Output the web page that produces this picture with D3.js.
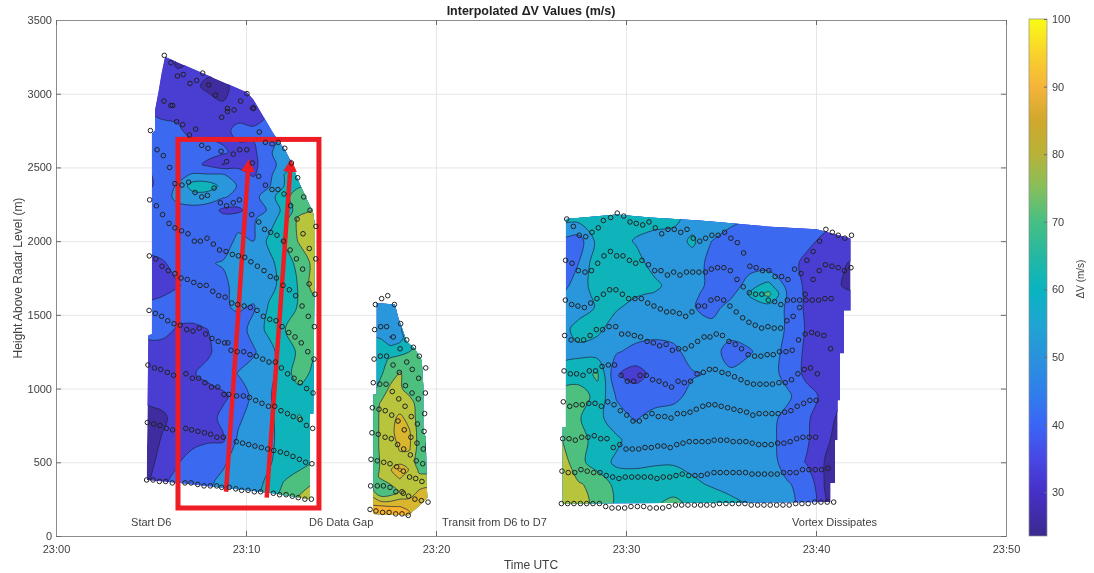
<!DOCTYPE html>
<html>
<head>
<meta charset="utf-8">
<script src="https://cdn.jsdelivr.net/npm/d3@7"></script>
<style>
  html, body { margin: 0; background: #fff; }
  svg { filter: blur(0.4px); }
  text { font-family: "Liberation Sans", Arial, sans-serif; fill: #404040; }
  .axis path { stroke: #8c8c8c; }
  .axis line { stroke: #6a6a6a; }
  .axis text { font-size: 11px; fill: #404040; }
  .grid line { stroke: #e6e6e6; }
  .grid path { display: none; }
</style>
</head>
<body>
<svg id="chart" width="1094" height="573"></svg>
<script>
// time is minutes after 23:00, height is metres
const xTicks = [0, 10, 20, 30, 40, 50];
const xTickLabels = ["23:00", "23:10", "23:20", "23:30", "23:40", "23:50"];
const yTicks = [0, 500, 1000, 1500, 2000, 2500, 3000, 3500];
const barTicks = [30, 40, 50, 60, 70, 80, 90, 100];

const levels = [28, 35, 45, 55, 65, 75, 83, 90];
const bandColors = ["#3f2c9e", "#4a3dd2", "#3b69f0", "#2a97dd", "#0fb4ba", "#4dc07f", "#b8c53c", "#d8b62e", "#f6b22c"];

const barValues = [23.5, 30, 35, 40, 45, 50, 55, 60, 65, 70, 75, 80, 85, 90, 95, 100];
const barColors = ["#3a2a8e", "#4630c8", "#4848e4", "#3a66f5", "#2f80ea", "#2a92dc", "#1ea6d2", "#08b4c0", "#25b8a2", "#46bf84", "#86bf5c", "#b8b238", "#cfa82c", "#f5b43a", "#f8d42a", "#f9fb15"];

const labels = ["Start D6", "D6 Data Gap", "Transit from D6 to D7", "Vortex Dissipates"];
const labelMinutes = [3.95, 13.32, 20.32, 38.74];
const labelHeight = 68;

const boxCorners = [[6.42, 2690], [13.84, 190]];
const arrows = [
  [[8.95, 300], [10.1, 2470]],
  [[11.09, 260], [12.32, 2470]]
];

// swath D6
const d6Minutes = [4.8, 5.6, 6.4, 7.2, 8.0, 8.8, 9.6, 10.4, 11.2, 12.0, 12.8, 13.6];
const d6Heights = [200, 350, 500, 650, 800, 950, 1100, 1250, 1400, 1550, 1700, 1850, 2000, 2150, 2210, 2300, 2375, 2450, 2520, 2600, 2750, 2900, 3050, 3200, 3350];
const d6Grid = [
  [27, 32, 36, 40, 44, 47, 50, 52, 60, 70, 80, 84],
  [27, 34, 37, 40, 44, 47, 50, 52, 57, 66, 70, 76],
  [26, 30, 34.5, 38, 41, 44, 48, 50, 54, 59, 62, 64],
  [25, 28.5, 31, 33, 34, 34, 47, 50, 52, 60, 60, 60],
  [25, 27, 30, 31, 32, 37, 43, 50, 53, 59, 66, 60],
  [30, 30, 31, 31.5, 32, 33.5, 38, 48, 54, 60, 60, 60],
  [31, 31, 32, 34.5, 37, 40, 45.5, 48, 52, 60, 70, 62],
  [31, 31, 31.5, 32, 34, 38, 41, 44, 50, 62, 66, 66],
  [38, 38, 34, 33, 35, 39, 41, 48, 58, 64.5, 70, 70],
  [36, 38, 39, 40, 41, 44, 46, 44, 56, 60, 66, 68],
  [32, 32, 34.5, 37, 39, 42, 50, 50, 52, 58, 66, 80],
  [31, 34, 38, 40, 44, 46, 46, 46, 52, 60, 68, 78],
  [39, 40, 41, 44, 40, 39, 48, 45, 57, 66, 76, 77],
  [40, 40, 40, 40, 39, 38, 40, 44, 50, 60, 78, 80],
  [40, 40, 41, 42, 40, 33, 33, 40, 46, 58, 70, 76],
  [38, 40, 48, 50, 50, 46, 42, 42, 50, 62, 70, 72],
  [32, 40, 46, 60, 60, 52, 44, 40, 44, 55, 64, 64],
  [33, 40, 42, 46, 46, 46, 38, 34, 42, 55, 62, 62],
  [40, 40, 40, 38, 33, 27.5, 33, 33, 40, 50, 60, 60],
  [40, 40, 40, 38, 38, 36, 33, 33, 43, 52, 62, 62],
  [40, 37, 36, 33, 33, 33, 37, 37, 40, 44, 48, 48],
  [33, 33, 33, 33, 33, 29, 31, 27, 33, 38, 40, 40],
  [33, 32, 32, 30, 26, 26, 31, 33, 36, 38, 40, 40],
  [32, 32, 27, 29, 31, 32, 33, 33, 36, 38, 40, 40],
  [32, 32, 32, 32, 32, 33, 33, 33, 36, 38, 40, 40]
];
const d6Outline = [[5.74, 3250], [10.04, 3010], [10.39, 2960], [11.44, 2730], [12.05, 2620], [12.40, 2530], [12.75, 2410], [13.54, 2190], [13.63, 2100], [13.54, 830], [13.37, 830], [13.37, 250], [11.44, 290], [6.53, 360], [4.77, 380], [4.86, 1360], [5.05, 1370], [5.05, 2730], [5.21, 2750], [5.21, 2890], [5.39, 3010], [5.56, 3140]];
const d6Points = [
  [5.70, 3260], [6.05, 3210], [6.39, 3120], [6.70, 3130], [7.05, 3070], [7.40, 3090], [7.72, 3140], [8.04, 3060], [8.39, 2990], [10.05, 3000], [9.72, 2950], [9.02, 2900], [9.02, 2880], [9.37, 2890], [8.72, 2840], [10.39, 2900],
  [5.68, 2950], [6.04, 2920], [6.14, 2920], [6.35, 2810], [6.67, 2790], [7.35, 2760], [7.02, 2720], [10.70, 2740], [4.97, 2750],
  [5.32, 2620], [5.65, 2580], [5.98, 2500], [6.26, 2390], [6.63, 2380], [6.98, 2400], [7.32, 2330], [7.67, 2300], [7.97, 2310], [8.32, 2360],
  [7.67, 2650], [8.00, 2630], [8.69, 2610], [9.33, 2590], [9.67, 2620], [10.04, 2620], [8.98, 2540], [10.33, 2530], [10.67, 2440], [11.02, 2380], [11.37, 2350], [11.68, 2350], [12.00, 2320], [12.35, 2240], [12.69, 2150], [13.00, 2050],
  [11.02, 2670], [11.37, 2660], [11.70, 2670], [12.04, 2630], [12.39, 2530], [12.72, 2430], [13.04, 2300], [13.37, 2210], [13.68, 2100],
  [4.93, 2280], [5.28, 2240], [5.61, 2180], [5.95, 2120], [6.26, 2090], [6.61, 2070], [6.95, 2050], [7.28, 2000], [7.60, 2000], [7.95, 2020], [8.28, 1980], [8.61, 1940], [8.95, 1930], [9.28, 1910], [9.60, 1900], [9.93, 1890], [10.26, 1860], [10.60, 1830], [10.95, 1800], [11.28, 1760], [11.60, 1750], [11.95, 1700], [12.28, 1670], [12.61, 1630], [12.95, 1560], [13.28, 1490], [13.60, 1420],
  [8.65, 2260], [8.98, 2240], [9.33, 2260], [9.65, 2280], [10.30, 2180], [10.67, 2130], [10.98, 2080], [11.30, 2060], [11.63, 2040], [11.97, 2000], [12.32, 1940], [12.65, 1880], [12.98, 1810], [13.33, 1950], [13.67, 1880], [13.32, 1710], [13.63, 1640],
  [4.91, 1900], [5.25, 1880], [5.58, 1830], [5.91, 1800], [6.26, 1780], [6.58, 1750], [6.91, 1740], [7.25, 1720], [7.58, 1700], [7.91, 1700], [8.25, 1660], [8.56, 1630], [8.90, 1620], [9.25, 1580], [9.56, 1570], [9.90, 1560], [10.23, 1550], [10.58, 1530], [10.91, 1490], [11.25, 1470], [11.58, 1460], [11.90, 1420], [12.25, 1380], [12.58, 1350], [12.91, 1310], [13.25, 1250], [13.58, 1200],
  [4.90, 1530], [5.23, 1510], [5.56, 1490], [5.88, 1460], [6.21, 1440], [6.54, 1430], [6.88, 1400], [7.21, 1390], [7.54, 1410], [7.88, 1370], [8.21, 1340], [8.54, 1320], [8.88, 1310], [9.05, 1310], [9.21, 1260], [9.54, 1250], [9.88, 1250], [10.21, 1230], [10.54, 1220], [10.88, 1200], [11.21, 1180], [11.54, 1180], [11.86, 1140], [12.19, 1100], [12.53, 1070], [12.86, 1040], [13.19, 1000], [13.53, 970],
  [4.84, 1160], [5.18, 1140], [5.51, 1130], [5.86, 1110], [6.19, 1090], [6.84, 1100], [7.18, 1070], [7.51, 1070], [7.84, 1040], [8.18, 1010], [8.51, 1010], [8.84, 960], [9.09, 960], [9.51, 950], [9.86, 950], [10.18, 940], [10.51, 920], [10.84, 900], [11.18, 880], [11.51, 880], [11.84, 850], [12.18, 830], [12.49, 810], [12.86, 790], [13.18, 750], [13.51, 730],
  [4.81, 770], [5.14, 760], [5.47, 750], [5.81, 730], [6.14, 720], [6.83, 730], [7.14, 720], [7.47, 710], [7.81, 700], [8.14, 690], [8.47, 670], [8.81, 670], [9.49, 640], [9.82, 630], [10.14, 620], [10.47, 610], [10.81, 600], [11.14, 590], [11.46, 580], [11.81, 570], [12.14, 560], [12.47, 540], [12.81, 520], [13.14, 500], [13.47, 490],
  [4.77, 380], [5.11, 380], [5.44, 370], [5.77, 370], [6.12, 360], [6.79, 360], [7.11, 360], [7.46, 350], [7.79, 340], [8.12, 340], [8.46, 340], [8.72, 330], [9.12, 330], [9.46, 320], [9.77, 310], [10.11, 310], [10.44, 300], [10.77, 300], [11.44, 290], [11.77, 280], [12.11, 280], [12.44, 270], [12.75, 260], [13.10, 250], [13.44, 250]
];

// transit swath
const gapMinutes = [16.6, 17.1, 17.6, 18.1, 18.6, 19.1, 19.6];
const gapHeights = [100, 200, 300, 400, 450, 500, 600, 700, 800, 900, 1000, 1100, 1200, 1300, 1350, 1400, 1500, 1600, 1700];
const gapGrid = [
  [95, 95, 95, 94, 92, 85, 85],
  [91, 91, 90, 90, 89, 85, 85],
  [78, 68, 70, 76, 78, 84, 85],
  [72, 76, 80, 84, 78, 76, 78],
  [70, 76, 82, 92, 82, 74, 70],
  [68, 76, 79, 80, 79, 72, 66],
  [68, 77, 78, 84, 84, 72, 62],
  [68, 77, 81, 86, 84, 72, 66],
  [68, 77, 80, 85, 80, 72, 66],
  [68, 76, 80, 78, 78, 72, 68],
  [62, 68, 77, 76, 72, 70, 68],
  [60, 64, 70, 76, 70, 68, 68],
  [58, 62, 66, 68, 68, 68, 66],
  [58, 58, 54, 56, 62, 66, 66],
  [56, 54, 44, 52, 60, 66, 66],
  [56, 53, 54, 54, 60, 64, 66],
  [52, 50, 50, 48, 56, 60, 60],
  [50, 50, 50, 50, 55, 60, 60],
  [50, 50, 50, 50, 55, 60, 60]
];
const gapOutline = [[16.88, 1580], [17.84, 1570], [18.02, 1480], [18.46, 1320], [18.89, 1270], [19.25, 1190], [19.33, 1020], [19.33, 710], [19.46, 670], [19.51, 370], [19.54, 260], [19.16, 210], [18.54, 140], [16.70, 150], [16.70, 960], [16.88, 960]];
const gapPoints = [
  [17.46, 1630], [17.14, 1610], [16.81, 1570], [17.81, 1570], [16.77, 1400], [17.09, 1420], [17.40, 1420], [18.14, 1440], [17.75, 1350], [18.46, 1330], [18.81, 1280], [18.11, 1270], [19.12, 1220], [19.46, 1140], [18.75, 1130], [18.46, 1180], [17.74, 1160], [17.40, 1220], [17.07, 1220], [16.74, 1200],
  [18.07, 1110], [19.09, 1070], [18.39, 1020], [19.44, 970], [18.74, 970], [19.07, 930], [18.04, 930], [17.70, 980], [17.37, 1030], [17.04, 1030], [16.70, 1040], [18.37, 880], [16.65, 870], [17.00, 860], [17.33, 850], [17.67, 820], [18.70, 810], [19.40, 830], [19.02, 760], [18.00, 780], [18.33, 720], [19.37, 710], [18.68, 670], [17.65, 660], [17.32, 670], [16.96, 690], [16.63, 700],
  [17.98, 620], [18.30, 590], [19.00, 630], [19.33, 590], [18.65, 550], [19.30, 490], [18.96, 510], [17.58, 490], [17.25, 500], [16.91, 510], [16.58, 520], [17.93, 470], [18.28, 440], [18.61, 400], [18.93, 390], [19.26, 370], [18.21, 300], [17.89, 300], [17.58, 330], [17.23, 340], [16.91, 340], [16.56, 340], [18.28, 290], [18.56, 270], [18.89, 250], [19.23, 240], [19.58, 230],
  [18.54, 140], [18.21, 150], [17.88, 150], [17.53, 160], [17.19, 160], [16.84, 170], [16.53, 180]
];

// swath D7
const d7Minutes = [26.5, 27.5, 28.5, 29.5, 30.5, 31.5, 32.5, 33.5, 34.5, 35.5, 36.5, 37.5, 38.5, 39.5, 40.5, 41.5, 42.5];
const d7Heights = [200, 350, 500, 650, 800, 950, 1100, 1250, 1400, 1550, 1640, 1700, 1850, 2000, 2150, 2300];
const d7Grid = [
  [80, 79, 72, 63, 62, 64, 68, 63, 62, 60, 54, 50, 47, 42, 27.5, 25, 25],
  [79, 76, 72, 62, 60, 60, 61, 57, 54, 50, 50, 50, 46, 41, 27, 25, 25],
  [82, 68, 60, 53, 53, 54, 54, 52, 50, 50, 50, 50, 40, 34.5, 27.5, 25, 25],
  [76, 68, 62, 57, 50, 50, 48, 50, 50, 50, 50, 48, 41, 36, 29, 25, 25],
  [68, 66, 58, 49, 44, 49, 50, 50, 50, 50, 50, 48, 42, 36, 31, 25, 25],
  [69, 68, 63, 44, 40, 40, 42, 48, 50, 50, 50, 50, 47, 38, 33, 27.5, 25],
  [58, 62, 66, 36, 31, 38, 40, 44, 46, 47, 50, 50, 41, 33, 33, 27.5, 25],
  [52, 52, 50, 46, 42, 39, 42, 50, 50, 40, 44, 50, 42, 33, 33, 28, 25],
  [50, 59, 57, 50, 50, 50, 50, 50, 50, 50, 50, 50, 44, 34, 33, 28.5, 25],
  [46, 50, 56, 56, 52, 50, 50, 46, 40, 50, 50, 50, 44, 33, 33, 30, 25],
  [44, 50, 58, 58, 56, 54, 50, 48, 40, 42, 56, 68, 44, 33, 33, 30, 27],
  [40, 50, 60, 60, 60, 58, 50, 50, 42, 36, 52, 58, 42, 33, 33, 27, 25],
  [36, 45, 62, 60, 60, 50, 50, 50, 42, 40, 38, 38, 38, 33, 33, 28.5, 25],
  [42, 40, 58, 60, 54, 50, 50, 57, 45, 40, 40, 40, 40, 37, 33, 33, 33],
  [58, 58, 60, 60, 60, 60, 58, 50, 50, 48, 44, 40, 40, 40, 38, 36, 36],
  [58, 58, 60, 60, 60, 60, 58, 50, 50, 48, 44, 40, 40, 40, 38, 36, 36]
];
const d7Outline = [[26.84, 2150], [29.51, 2180], [31.26, 2160], [33.89, 2140], [37.40, 2100], [40.03, 2080], [41.82, 2020], [41.82, 1530], [41.47, 1530], [41.47, 1240], [41.26, 1240], [41.26, 920], [41.14, 920], [41.14, 650], [41.00, 650], [41.00, 360], [40.77, 360], [40.77, 230], [26.67, 220], [26.67, 740], [26.84, 740]];
const d7Points = [
  [26.88, 2150], [28.81, 2140], [29.19, 2160], [29.54, 2190], [29.88, 2170], [30.21, 2130], [30.54, 2120], [30.88, 2110], [31.21, 2130], [31.54, 2090], [31.88, 2050], [32.21, 2080], [32.54, 2080], [32.88, 2060], [33.21, 2080], [33.54, 2020], [33.88, 2000], [34.19, 2020], [34.52, 2040], [34.85, 2040], [35.19, 2060], [35.52, 2020], [35.86, 1990], [36.19, 1920],
  [27.23, 2100], [27.54, 2040], [27.88, 2030], [28.21, 2060], [28.54, 2090],
  [26.82, 1870], [27.16, 1850], [27.49, 1800], [27.84, 1790], [28.18, 1800], [28.51, 1850], [28.84, 1900], [29.18, 1930], [29.51, 1900], [29.84, 1900], [30.18, 1870], [30.51, 1850], [30.84, 1870], [31.18, 1840], [31.51, 1800], [31.84, 1800], [32.18, 1770], [32.51, 1790], [32.84, 1770], [33.18, 1790], [33.51, 1790], [33.84, 1790], [34.18, 1790], [34.49, 1810], [34.82, 1820], [35.15, 1820], [35.49, 1800],
  [36.52, 1830], [36.85, 1820], [37.19, 1800], [37.52, 1800], [37.85, 1760], [38.19, 1760], [38.52, 1740], [39.85, 1740], [40.17, 1800], [40.50, 1840], [40.84, 1830], [41.17, 1820], [41.49, 1800], [41.84, 1820],
  [39.85, 1930], [39.52, 1870], [40.19, 2000], [40.52, 2080], [40.86, 2060], [41.17, 2040], [41.52, 2020], [41.87, 2040], [38.87, 1810], [39.21, 1780], [35.84, 1740], [36.17, 1690],
  [26.81, 1600], [27.14, 1570], [27.47, 1560], [27.81, 1550], [28.14, 1580], [28.47, 1610], [28.81, 1640], [29.14, 1670], [29.47, 1670], [29.81, 1640], [30.14, 1610], [30.47, 1610], [30.81, 1610], [31.14, 1580], [31.47, 1560], [31.81, 1540], [32.14, 1520], [32.47, 1520], [32.81, 1510], [33.14, 1490], [33.47, 1520], [33.81, 1560], [34.14, 1560], [34.47, 1600], [34.80, 1610], [35.14, 1600], [35.47, 1560], [35.80, 1520], [36.14, 1480], [36.47, 1450], [36.80, 1430], [37.14, 1410], [37.47, 1420], [37.80, 1410], [38.14, 1410], [38.47, 1460], [38.80, 1490], [39.14, 1550],
  [36.49, 1650], [36.82, 1640], [37.15, 1640], [37.49, 1600], [37.82, 1590], [38.15, 1570], [38.49, 1600], [38.82, 1600], [39.14, 1600], [39.47, 1600], [39.80, 1600], [40.14, 1600], [40.47, 1610], [40.80, 1610], [39.43, 1640],
  [26.77, 1360], [27.11, 1330], [27.44, 1330], [27.77, 1330], [28.11, 1360], [28.44, 1400], [28.77, 1400], [29.11, 1420], [29.46, 1420], [29.77, 1370], [30.11, 1370], [30.44, 1360], [30.77, 1350], [31.11, 1320], [31.44, 1310], [31.77, 1290], [32.11, 1300], [32.44, 1260], [32.77, 1270], [33.11, 1270], [33.44, 1290], [33.77, 1320], [34.11, 1350], [34.42, 1350], [34.75, 1370], [35.08, 1360], [35.42, 1320], [35.75, 1300], [36.08, 1270], [36.43, 1230], [36.77, 1220], [37.10, 1220], [37.43, 1230], [37.75, 1230], [38.08, 1250], [38.42, 1250], [38.75, 1260], [39.08, 1330], [39.43, 1370], [39.77, 1380], [40.08, 1370], [40.42, 1360], [40.77, 1270],
  [26.74, 1120], [27.07, 1100], [27.40, 1100], [27.74, 1090], [28.07, 1120], [28.40, 1120], [28.74, 1150], [29.07, 1160], [29.40, 1160], [29.74, 1090], [30.07, 1050], [30.40, 1050], [30.74, 1090], [31.07, 1090], [31.40, 1060], [31.74, 1050], [32.07, 1030], [32.40, 1010], [32.74, 1050], [33.07, 1040], [33.40, 1050], [33.74, 1100], [34.07, 1110], [34.39, 1130], [34.70, 1130], [35.05, 1110], [35.38, 1100], [35.71, 1080], [36.05, 1060], [36.38, 1040], [36.71, 1030], [37.05, 1030], [37.38, 1030], [37.71, 1030], [38.05, 1040], [38.38, 1040], [38.71, 1060], [39.05, 1100], [39.38, 1130], [39.71, 1140], [40.07, 1100],
  [26.70, 910], [27.04, 880], [27.37, 890], [27.70, 890], [28.04, 900], [28.37, 900], [28.70, 880], [29.04, 910], [29.37, 890], [29.70, 850], [30.04, 820], [30.37, 780], [30.70, 780], [31.04, 810], [31.37, 830], [31.70, 810], [32.04, 810], [32.37, 800], [32.70, 830], [33.04, 830], [33.37, 840], [33.70, 860], [34.04, 880], [34.35, 890], [34.68, 890], [35.01, 880], [35.35, 870], [35.68, 860], [36.01, 850], [36.35, 840], [36.68, 820], [37.01, 830], [37.35, 830], [37.68, 830], [38.01, 830], [38.35, 840], [38.68, 850], [39.01, 880], [39.35, 900], [39.68, 920], [40.01, 920],
  [26.67, 660], [27.00, 660], [27.33, 650], [27.67, 670], [28.00, 670], [28.33, 680], [28.67, 660], [29.00, 660], [29.33, 600], [29.67, 620], [30.00, 590], [30.33, 590], [30.67, 590], [31.00, 600], [31.33, 600], [31.67, 610], [32.00, 610], [32.33, 600], [32.67, 620], [33.00, 630], [33.33, 640], [33.67, 640], [34.00, 640], [34.33, 640], [34.64, 650], [34.98, 650], [35.31, 650], [35.64, 640], [35.98, 640], [36.31, 640], [36.64, 630], [36.98, 620], [37.31, 620], [37.64, 620], [37.98, 630], [38.31, 630], [38.64, 640], [38.98, 660], [39.31, 670], [39.64, 670], [39.98, 670],
  [26.63, 440], [26.96, 430], [27.30, 430], [27.63, 450], [27.96, 440], [28.30, 430], [28.63, 430], [28.96, 410], [29.30, 400], [29.63, 390], [29.96, 400], [30.30, 400], [30.63, 400], [30.96, 400], [31.30, 400], [31.63, 390], [31.96, 400], [32.30, 400], [32.63, 410], [32.96, 420], [33.30, 410], [33.63, 410], [33.96, 410], [34.28, 420], [34.63, 430], [34.96, 430], [35.29, 430], [35.63, 430], [35.96, 430], [36.29, 430], [36.63, 420], [36.96, 420], [37.29, 420], [37.63, 420], [37.96, 420], [38.29, 430], [38.63, 430], [38.96, 430], [39.29, 450], [39.63, 450], [39.96, 450], [40.29, 450], [40.63, 460],
  [26.60, 220], [26.93, 220], [27.26, 220], [27.60, 220], [27.93, 220], [28.26, 220], [28.60, 220], [28.93, 200], [29.26, 190], [29.60, 190], [29.93, 190], [30.26, 200], [30.60, 200], [30.93, 200], [31.26, 190], [31.60, 190], [31.93, 190], [32.26, 200], [32.60, 210], [32.93, 210], [33.26, 210], [33.60, 210], [33.93, 210], [34.25, 210], [34.59, 210], [34.92, 220], [35.26, 220], [35.59, 220], [35.93, 220], [36.26, 220], [36.59, 210], [36.93, 210], [37.26, 210], [37.59, 210], [37.93, 210], [38.26, 210], [38.59, 210], [38.93, 220], [39.26, 220], [39.59, 220], [39.93, 230], [40.26, 230], [40.59, 230], [40.93, 230]
];

const swaths = [
  { minutes: d6Minutes, heights: d6Heights, grid: d6Grid, outline: d6Outline, points: d6Points },
  { minutes: gapMinutes, heights: gapHeights, grid: gapGrid, outline: gapOutline, points: gapPoints },
  { minutes: d7Minutes, heights: d7Heights, grid: d7Grid, outline: d7Outline, points: d7Points }
];

const plot = { left: 56, right: 1006, top: 20, bottom: 536 };
const bar = { left: 1029, right: 1047, top: 19, bottom: 536 };

const svg = d3.select("#chart");
const x = d3.scaleLinear().domain([0, 50]).range([plot.left, plot.right]);
const y = d3.scaleLinear().domain([0, 3500]).range([plot.bottom, plot.top]);
const plotW = plot.right - plot.left, plotH = plot.bottom - plot.top;

svg.append("g").attr("class", "grid")
  .attr("transform", `translate(0,${plot.bottom})`)
  .call(d3.axisBottom(x).tickValues(xTicks).tickSize(-plotH).tickFormat(""));
svg.append("g").attr("class", "grid")
  .attr("transform", `translate(${plot.left},0)`)
  .call(d3.axisLeft(y).tickValues(yTicks).tickSize(-plotW).tickFormat(""));

const toLine = d3.line().x(d => x(d[0])).y(d => y(d[1]));
const smooth = d3.line().curve(d3.curveCatmullRomClosed.alpha(0.5));

swaths.forEach((s, idx) => {
  const n = s.minutes.length, m = s.heights.length;
  // rows and columns need not be evenly spaced
  const colX = d3.scaleLinear().domain(s.minutes.map((d, i) => i + 0.5)).range(s.minutes);
  const rowY = d3.scaleLinear().domain(s.heights.map((d, i) => i + 0.5)).range(s.heights);

  svg.append("clipPath").attr("id", "clip" + idx)
    .append("path").attr("d", toLine(s.outline) + "Z");

  const g = svg.append("g").attr("clip-path", `url(#clip${idx})`);
  g.append("path").attr("d", toLine(s.outline) + "Z").attr("fill", bandColors[0]);

  const contours = d3.contours().size([n, m]).thresholds(levels)(s.grid.flat());
  g.selectAll(".band")
    .data(contours)
    .enter()
    .append("path")
    .attr("class", "band")
    .attr("fill", (d, i) => bandColors[i + 1])
    .attr("fill-rule", "evenodd")
    .attr("stroke", "#1c2440")
    .attr("stroke-width", 0.7)
    .attr("d", d => d.coordinates.flat().map(ring =>
      smooth(ring.slice(0, -1).map(p => [x(colX(p[0])), y(rowY(p[1]))]))
    ).join(""));
});

// red box and arrows over the swath
svg.append("defs").append("marker")
  .attr("id", "head")
  .attr("markerUnits", "userSpaceOnUse")
  .attr("markerWidth", 16).attr("markerHeight", 16)
  .attr("refX", 0).attr("refY", 7)
  .attr("orient", "auto")
  .append("path").attr("d", "M0,0L13,7L0,14Z").attr("fill", "#ee1c25");

svg.append("rect")
  .attr("x", x(boxCorners[0][0]))
  .attr("y", y(boxCorners[0][1]))
  .attr("width", x(boxCorners[1][0]) - x(boxCorners[0][0]))
  .attr("height", y(boxCorners[1][1]) - y(boxCorners[0][1]))
  .attr("fill", "none").attr("stroke", "#ee1c25").attr("stroke-width", 5);

svg.selectAll(".arrow")
  .data(arrows)
  .enter()
  .append("path")
  .attr("class", "arrow")
  .attr("d", toLine)
  .attr("fill", "none")
  .attr("stroke", "#ee1c25")
  .attr("stroke-width", 4.5)
  .attr("marker-end", "url(#head)");

swaths.forEach(s => {
  svg.append("g").selectAll("circle")
    .data(s.points)
    .enter()
    .append("circle")
    .attr("cx", d => x(d[0]))
    .attr("cy", d => y(d[1]))
    .attr("r", 2.3)
    .attr("fill", "none")
    .attr("stroke", "#222")
    .attr("stroke-width", 1);
});

// axes
svg.append("g").attr("class", "axis")
  .attr("transform", `translate(0,${plot.bottom})`)
  .call(d3.axisBottom(x).tickValues(xTicks).tickFormat((d, i) => xTickLabels[i]).tickSize(-5).tickPadding(9));
svg.append("g").attr("class", "axis")
  .attr("transform", `translate(${plot.left},0)`)
  .call(d3.axisLeft(y).tickValues(yTicks).tickFormat(d3.format("d")).tickSize(-5).tickPadding(4));
svg.append("g").attr("class", "axis")
  .attr("transform", `translate(${plot.right},0)`)
  .call(d3.axisRight(y).tickValues(yTicks).tickSize(-5).tickFormat(""));
svg.append("g").attr("class", "axis")
  .attr("transform", `translate(0,${plot.top})`)
  .call(d3.axisTop(x).tickValues(xTicks).tickSize(-5).tickFormat(""));

svg.selectAll(".note")
  .data(labels)
  .enter()
  .append("text")
  .attr("class", "note")
  .attr("x", (d, i) => x(labelMinutes[i]))
  .attr("y", y(labelHeight))
  .attr("font-size", 11)
  .text(d => d);

svg.append("text")
  .attr("x", 531).attr("y", 15)
  .attr("text-anchor", "middle")
  .attr("font-size", 12.5).attr("font-weight", "bold")
  .style("fill", "#222")
  .text("Interpolated ΔV Values (m/s)");
svg.append("text")
  .attr("x", 531).attr("y", 569)
  .attr("text-anchor", "middle").attr("font-size", 12)
  .text("Time UTC");
svg.append("text")
  .attr("transform", "translate(22,278) rotate(-90)")
  .attr("text-anchor", "middle").attr("font-size", 12)
  .text("Height Above Radar Level (m)");

// colour bar
const barY = d3.scaleLinear().domain([23.5, 100]).range([bar.bottom, bar.top]);
const grad = svg.append("defs").append("linearGradient")
  .attr("id", "barGrad").attr("x1", 0).attr("x2", 0).attr("y1", 1).attr("y2", 0);
grad.selectAll("stop")
  .data(barValues)
  .enter()
  .append("stop")
  .attr("offset", d => (d - 23.5) / (100 - 23.5))
  .attr("stop-color", (d, i) => barColors[i]);
svg.append("rect")
  .attr("x", bar.left).attr("y", bar.top)
  .attr("width", bar.right - bar.left).attr("height", bar.bottom - bar.top)
  .attr("fill", "url(#barGrad)")
  .attr("stroke", "#8c8c8c").attr("stroke-width", 0.7);
svg.append("g").attr("class", "axis")
  .attr("transform", `translate(${bar.right},0)`)
  .call(d3.axisRight(barY).tickValues(barTicks).tickSize(-3).tickPadding(5))
  .select("path").remove();
svg.append("text")
  .attr("transform", "translate(1084,279) rotate(-90)")
  .attr("text-anchor", "middle").attr("font-size", 10)
  .text("ΔV (m/s)");
</script>
</body>
</html>
